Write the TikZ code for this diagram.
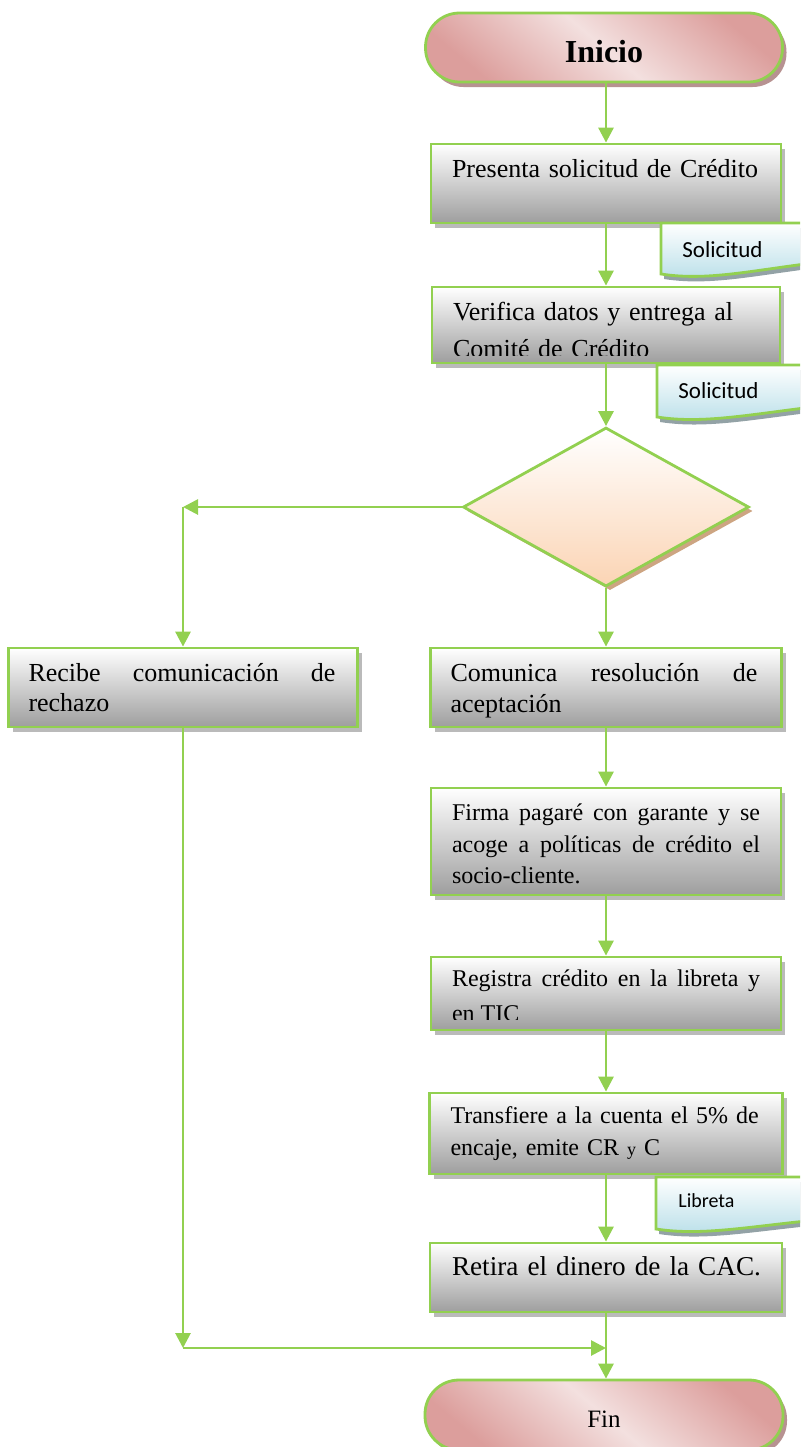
\documentclass[tikz,border=0pt]{standalone}
\usepackage{fontspec}
\setmainfont{Liberation Serif}
\newfontfamily\calibri{Carlito}
\usetikzlibrary{arrows.meta,shapes.geometric,shadows}
\definecolor{verde}{RGB}{146,208,80}
\definecolor{grisfondo}{RGB}{158,158,158}
\definecolor{rosaosc}{RGB}{220,158,156}
\definecolor{rosacla}{RGB}{243,224,223}
\definecolor{durazno}{RGB}{251,212,180}
\definecolor{celeste}{RGB}{183,222,232}
\definecolor{sombrabeige}{RGB}{205,165,130}
\begin{document}
\begin{tikzpicture}[x=0.5pt, y=-0.5pt,
		flecha/.style={draw=verde, line width=1.4pt, -{Triangle[length=7.5pt,width=7.5pt]}},
		caja/.style={rectangle, draw=verde, line width=1.4pt, inner sep=0pt, top color=white, bottom color=grisfondo,
			drop shadow={shadow xshift=2pt, shadow yshift=-2.5pt, fill=black!27, opacity=1}},
		terminal/.style={rectangle, rounded corners=17pt, draw=verde, line width=1.4pt, text depth=0pt,
			top color=rosaosc, bottom color=rosaosc, middle color=rosacla, shading angle=-40,
			drop shadow={shadow xshift=2pt, shadow yshift=-2.5pt, fill=rosaosc!60!gray, opacity=1}},
		decision/.style={diamond, aspect=1.8, draw=verde, line width=1.4pt, inner sep=0pt, top color=white, bottom color=durazno,
			minimum width=143pt, minimum height=79.5pt,
			drop shadow={shadow xshift=2pt, shadow yshift=-2pt, fill=sombrabeige, opacity=1}},
		documento/.style={draw=verde, line width=1.4pt, top color=white, bottom color=celeste,
			drop shadow={shadow xshift=1.5pt, shadow yshift=-2.5pt, fill=celeste!55!black!70, opacity=1}},
		texto/.style={anchor=base west, inner sep=0pt, text width=154pt, align=justify,
			execute at begin node={\tolerance=9999\hyphenpenalty=10000\exhyphenpenalty=10000}},
		doctexto/.style={anchor=base west, inner sep=0pt, font=\calibri\fontsize{11.5}{13}\selectfont}
	]
	\useasboundingbox ( 0, 0 ) rectangle ( 800, 1447 );
	\clip ( 0, 0 ) rectangle ( 800, 1447 );

	% inicio
	\node [terminal, minimum width=178.5pt, minimum height=34.5pt, text height=14.5pt, font=\fontsize{16}{19}\selectfont\bfseries] (inicio) at ( 604, 47.5 ) {Inicio};

	% presenta solicitud
	\node [caja, minimum width=175pt, minimum height=39.5pt] (pres) at ( 606, 183.5 ) {};
	\node [texto, align=left, text width=170pt, font=\fontsize{13}{15.5}\selectfont] (pres-t) at ([shift={(22,35)}]pres.north west) {Presenta solicitud de Crédito};

	% verifica datos
	\node [caja, minimum width=174pt, minimum height=38pt] (verif) at ( 606, 325 ) {};
	\begin{scope}
		\clip ( 430, 285 ) rectangle ( 782, 355 );
		\node [texto, align=left, text width=170pt, font=\fontsize{13}{18.5}\selectfont] (verif-t) at ([shift={(22,35)}]verif.north west) {Verifica datos y entrega al\\Comité de Crédito};
	\end{scope}

	% decision
	\node [decision] (dec) at ( 606, 507 ) {};

	% rechazo
	\node [caja, minimum width=174.5pt, minimum height=39.5pt] (rech) at ( 183, 687.5 ) {};
	\node [texto, text width=153.5pt, font=\fontsize{13}{15}\selectfont] (rech-t) at ([shift={(21,35)}]rech.north west) {Recibe comunicación de\linebreak rechazo};

	% aceptacion
	\node [caja, minimum width=175.5pt, minimum height=39.5pt] (acep) at ( 606, 687.5 ) {};
	\node [texto, text width=153.5pt, font=\fontsize{13}{15.5}\selectfont] (acep-t) at ([shift={(21,35)}]acep.north west) {Comunica resolución de\linebreak aceptación};

	% firma pagare
	\node [caja, minimum width=175pt, minimum height=53.5pt] (firma) at ( 606, 841.5 ) {};
	\node [texto, font=\fontsize{12}{15.75}\selectfont] (firma-t) at ([shift={(22,34)}]firma.north west) {Firma pagaré con garante y se\linebreak acoge a políticas de crédito el\linebreak socio-cliente.};

	% registra credito
	\node [caja, minimum width=175pt, minimum height=36.5pt] (regis) at ( 606, 993.5 ) {};
	\begin{scope}
		\clip ( 430, 955 ) rectangle ( 785, 1019 );
		\node [texto, font=\fontsize{12}{17.5}\selectfont] (regis-t) at ([shift={(22,31)}]regis.north west) {Registra crédito en la libreta y\linebreak en TIC};
	\end{scope}

	% transfiere
	\node [caja, minimum width=176.5pt, minimum height=40.5pt] (transf) at ( 606, 1133.5 ) {};
	\node [texto, align=left, text width=170pt, font=\fontsize{12}{16}\selectfont] (transf-t) at ([shift={(22,32)}]transf.north west) {Transfiere a la cuenta el 5\% de\\encaje, emite CR {\fontsize{9}{9}\selectfont y} C};

	% retira dinero
	\node [caja, minimum width=176pt, minimum height=34.5pt] (retira) at ( 606, 1277.5 ) {};
	\node [texto, align=left, text width=170pt, font=\fontsize{13.6}{16}\selectfont] (retira-t) at ([shift={(23,34)}]retira.north west) {Retira el dinero de la CAC.};

	% fin
	\node [terminal, minimum width=179pt, minimum height=35pt, text height=12pt, font=\fontsize{12.5}{15}\selectfont] (fin) at ( 604, 1415 ) {Fin};

	% documentos
	\path [documento] ( 661, 223 ) -- ( 840, 223 ) -- ( 840, 260 ) .. controls ( 760, 268 ) and ( 712, 282 ) .. ( 661, 274 ) -- cycle;
	\node [doctexto] (sol1) at ( 682, 257 ) {Solicitud};
	\path [documento] ( 657, 365 ) -- ( 840, 365 ) -- ( 840, 404 ) .. controls ( 760, 412 ) and ( 708, 425 ) .. ( 657, 417 ) -- cycle;
	\node [doctexto] (sol2) at ( 678, 398 ) {Solicitud};
	\path [documento] ( 656, 1177 ) -- ( 840, 1177 ) -- ( 840, 1218 ) .. controls ( 760, 1224 ) and ( 707, 1237 ) .. ( 656, 1229 ) -- cycle;
	\node [doctexto, font=\calibri\fontsize{10}{12}\selectfont] (lib) at ( 678, 1207 ) {Libreta};

	% conectores
	\coordinate (izq) at ( 183, 507 );
	\coordinate (abajo) at ( 183, 1348 );
	\coordinate (union) at ( 606, 1348 );
	\draw [flecha] (inicio.south -| pres.north) -- (pres);
	\draw [flecha] (pres) -- (verif);
	\draw [flecha] (verif) -- (dec);
	\draw [flecha] (dec.west) -- (izq);
	\draw [flecha] (izq) -- (rech);
	\draw [flecha] (dec) -- (acep);
	\draw [flecha] (acep) -- (firma);
	\draw [flecha] (firma) -- (regis);
	\draw [flecha] (regis) -- (transf);
	\draw [flecha] (transf) -- (retira);
	\draw [flecha] (rech) -- (abajo);
	\draw [flecha] (abajo) -- (union);
	\draw [flecha] (retira) -- (fin.north -| retira.south);
\end{tikzpicture}
\end{document}
